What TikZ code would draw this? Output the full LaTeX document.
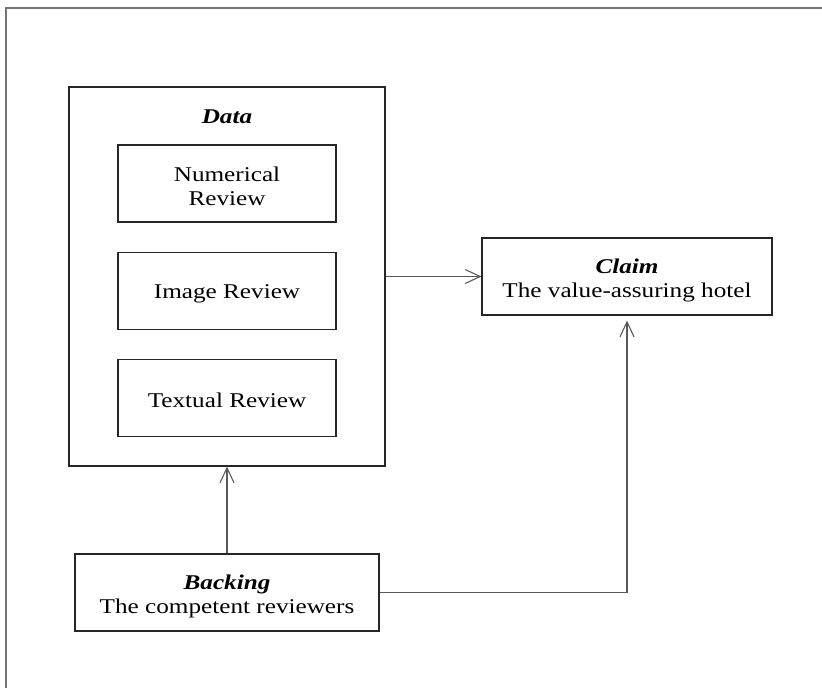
\documentclass[tikz,border=0pt]{standalone}
\usepackage{fontspec}
\setmainfont[FakeStretch=1.2]{Liberation Serif}
\usetikzlibrary{arrows.meta}
\begin{document}
\begin{tikzpicture}[x=1pt,y=-1pt,
  box/.style={draw=black!85,line width=1.05pt,rectangle,inner sep=0pt},
  txt/.style={inner sep=0pt,align=center,font=\fontsize{21}{24}\selectfont},
  lbl/.style={inner sep=0pt,font=\fontsize{21}{24}\selectfont\bfseries\itshape},
  link/.style={draw=black!65,line width=1.1pt,
    -{Straight Barb[length=15pt,width=14pt,line width=1.1pt]}},
  frame/.style={draw=black!55,line width=1.6pt}]
\useasboundingbox (0,0) rectangle (822,688);
% page frame
\draw[frame] (6,688) -- (6,8) -- (823,8);
% data group
\node[box,minimum width=316pt,minimum height=379pt] (data) at (227,276.5) {};
\node[lbl] (datalbl) at (227,117) {Data};
\node[box,minimum width=218pt,minimum height=77pt] (num) at (227,183.5) {};
\node[txt] (numtext) at ([yshift=-2.5pt]num.center) {Numerical\\Review};
\node[box,minimum width=218pt,minimum height=77pt] (img) at (227,291) {};
\node[txt] (imgtext) at ([yshift=-3pt]img.center) {Image Review};
\node[box,minimum width=218pt,minimum height=77pt] (tex) at (227,398) {};
\node[txt] (textext) at ([yshift=-2.5pt]tex.center) {Textual Review};
% claim and backing
\node[box,minimum width=290pt,minimum height=77pt] (claim) at (627,276.5) {};
\node[txt] (claimtext) at ([yshift=-3.5pt]claim.center)
  {\textbf{\textit{Claim}}\\The value-assuring hotel};
\node[box,minimum width=304pt,minimum height=77pt] (backing) at (227,592.5) {};
\node[txt] (backingtext) at ([yshift=-3.5pt]backing.center)
  {\textbf{\textit{Backing}}\\The competent reviewers};
% connectors
\draw[link] (data.east) -- (claim.west);
\draw[link] (backing.north) -- (data.south);
\draw[link] (backing.east) -| ([yshift=-5pt]claim.south);
\end{tikzpicture}
\end{document}
